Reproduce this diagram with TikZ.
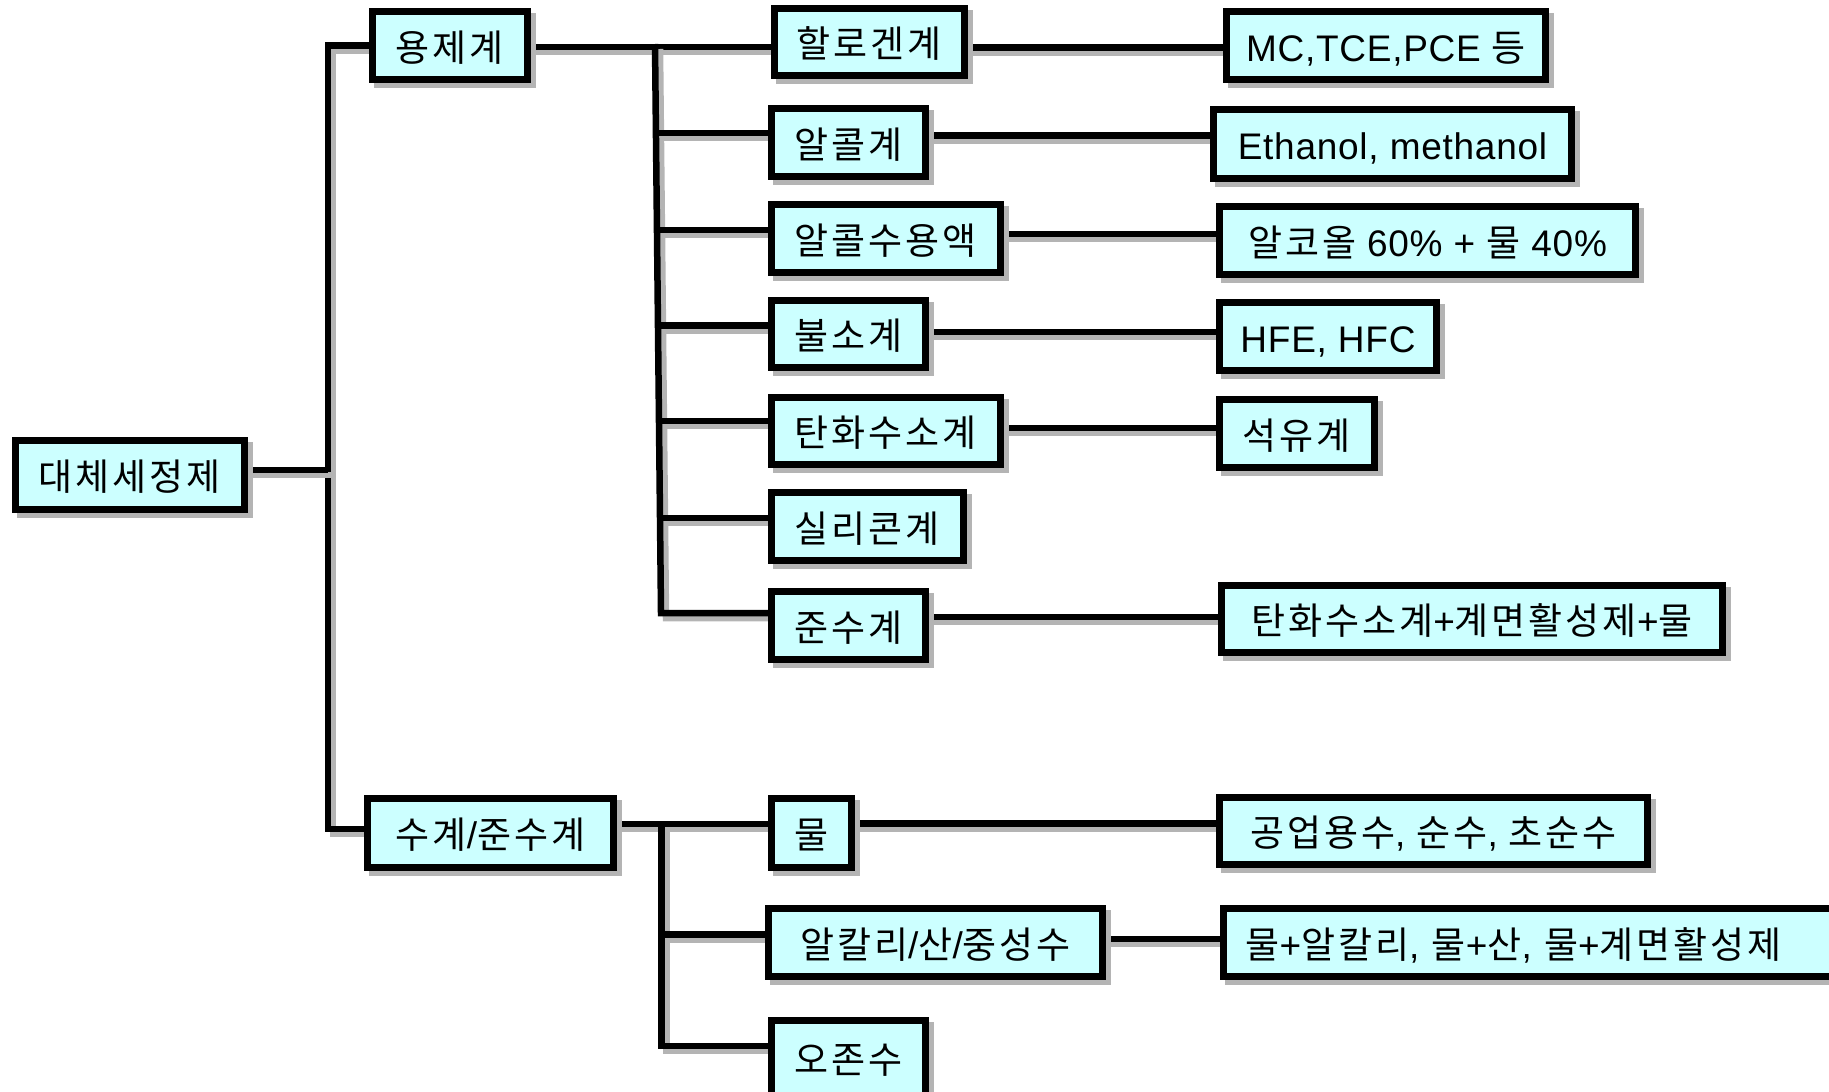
\documentclass[tikz,border=0pt]{standalone}
\usepackage{fontspec}
\setmainfont[LetterSpace=2]{Liberation Sans}
\newfontfamily\kr[LetterSpace=8]{Noto Sans CJK KR}
\usetikzlibrary{shadows,backgrounds}
\definecolor{boxfill}{HTML}{CCFFFF}
\definecolor{shade}{HTML}{B4B4B4}
\tikzset{
  box/.style={draw=black, line width=7pt, fill=boxfill, inner sep=0pt,
    text height=31pt, text depth=0pt, font=\fontsize{37}{40}\selectfont,
    general shadow={draw=shade, fill=shade, line width=7pt, shadow xshift=5pt, shadow yshift=-5pt}},
  conn/.style={line width=6.5pt, line join=miter,
    preaction={draw=shade, line width=6.5pt, transform canvas={shift={(5pt,-5pt)}}}},
}
\begin{document}
\begin{tikzpicture}[x=1pt, y=-1pt]
\useasboundingbox (0,0) rectangle (1829,1092);
\clip (0,0) rectangle (1829,1092);
% level 0/1
\node[box, minimum width=229pt, minimum height=69pt] (root) at (130,475) {\kr 대체세정제};
\node[box, minimum width=155pt, minimum height=68pt] (yj) at (450,45.5) {\kr 용제계};
\node[box, minimum width=246pt, minimum height=69pt] (sg) at (490.5,833) {{\kr 수계}/{\kr 준수계}};
% level 2
\node[box, minimum width=190pt, minimum height=67pt] (hal) at (869.5,42) {\kr 할로겐계};
\node[box, minimum width=154pt, minimum height=68pt] (alc) at (848.5,142.5) {\kr 알콜계};
\node[box, minimum width=229pt, minimum height=68pt] (alcw) at (886,238.5) {\kr 알콜수용액};
\node[box, minimum width=154pt, minimum height=67pt] (fl) at (848.5,334) {\kr 불소계};
\node[box, minimum width=229pt, minimum height=67pt] (hc) at (886,431) {\kr 탄화수소계};
\node[box, minimum width=192pt, minimum height=68pt] (si) at (867.5,526.5) {\kr 실리콘계};
\node[box, minimum width=154pt, minimum height=68pt] (js) at (848.5,625.5) {\kr 준수계};
\node[box, minimum width=80pt, minimum height=69pt] (water) at (811.5,833) {\kr 물};
\node[box, minimum width=334pt, minimum height=68pt] (alk) at (935.5,942.5) {{\kr 알칼리}/{\kr 산}/{\kr 중성수}};
\node[box, minimum width=154pt, minimum height=76pt] (oz) at (848.5,1058) {\kr 오존수};
% level 3
\node[box, minimum width=319pt, minimum height=68pt] (r1) at (1386,45.5) {MC,TCE,PCE {\kr 등}};
\node[box, minimum width=358pt, minimum height=69pt] (r2) at (1392.5,144) {Ethanol, methanol};
\node[box, minimum width=416pt, minimum height=68pt] (r3) at (1427.5,240.5) {{\kr 알코올} 60\% + {\kr 물} 40\%};
\node[box, minimum width=217pt, minimum height=68pt] (r4) at (1328,336.5) {HFE, HFC};
\node[box, minimum width=155pt, minimum height=68pt] (r5) at (1297,433.5) {\kr 석유계};
\node[box, minimum width=501pt, minimum height=67pt] (r6) at (1472,619) {{\kr 탄화수소계}+{\kr 계면활성제}+{\kr 물}};
\node[box, minimum width=428pt, minimum height=67pt] (r7) at (1433.5,831) {{\kr 공업용수}, {\kr 순수}, {\kr 초순수}};
\node[box, minimum height=68pt, text width=640pt, align=left, inner xsep=22.5pt, anchor=west] (r8) at (1219.5,942.5) {{\kr 물}+{\kr 알칼리}, {\kr 물}+{\kr 산}, {\kr 물}+{\kr 계면활성제}};
% coordinates
\coordinate (ttop) at (328,45.5);
\coordinate (tmid) at (328,470);
\coordinate (tbot) at (328,829);
\coordinate (v1) at (655,44);
\coordinate (y1) at (700,47);
\coordinate (a2) at (655.9,133);
\coordinate (a3) at (657,230);
\coordinate (a4) at (658,325.5);
\coordinate (a5) at (659,421);
\coordinate (a6) at (660,518);
\coordinate (v7) at (661,613);
\coordinate (h1) at (1100,47.5);
\coordinate (h2) at (1100,135.5);
\coordinate (h3) at (1100,234);
\coordinate (h4) at (1100,332);
\coordinate (h5) at (1100,428);
\coordinate (h6) at (1100,617);
\coordinate (h7) at (1100,823.5);
\coordinate (h8) at (1100,939);
\coordinate (w0) at (661.5,824);
\coordinate (w1) at (661.5,934.5);
\coordinate (w2) at (661.5,1046);
\begin{scope}[on background layer]
\draw[conn] (yj.west |- ttop) -- (ttop) -- (tbot) -- (sg.west |- tbot);
\draw[conn] (root.east |- tmid) -- (tmid);
\draw[conn] (yj.east |- y1) -- (hal.west |- y1);
\draw[conn] (v1) -- (v7) -- (v7 -| js.west);
\draw[conn] (a2) -- (a2 -| alc.west);
\draw[conn] (a3) -- (a3 -| alcw.west);
\draw[conn] (a4) -- (a4 -| fl.west);
\draw[conn] (a5) -- (a5 -| hc.west);
\draw[conn] (a6) -- (a6 -| si.west);
\draw[conn] (sg.east |- w0) -- (water.west |- w0);
\draw[conn] (w0) -- (w2) -- (w2 -| oz.west);
\draw[conn] (w1) -- (w1 -| alk.west);
\draw[conn] (hal.east |- h1) -- (r1.west |- h1);
\draw[conn] (alc.east |- h2) -- (r2.west |- h2);
\draw[conn] (alcw.east |- h3) -- (r3.west |- h3);
\draw[conn] (fl.east |- h4) -- (r4.west |- h4);
\draw[conn] (hc.east |- h5) -- (r5.west |- h5);
\draw[conn] (js.east |- h6) -- (r6.west |- h6);
\draw[conn] (water.east |- h7) -- (r7.west |- h7);
\draw[conn] (alk.east |- h8) -- (r8.west |- h8);
\end{scope}
\end{tikzpicture}
\end{document}
